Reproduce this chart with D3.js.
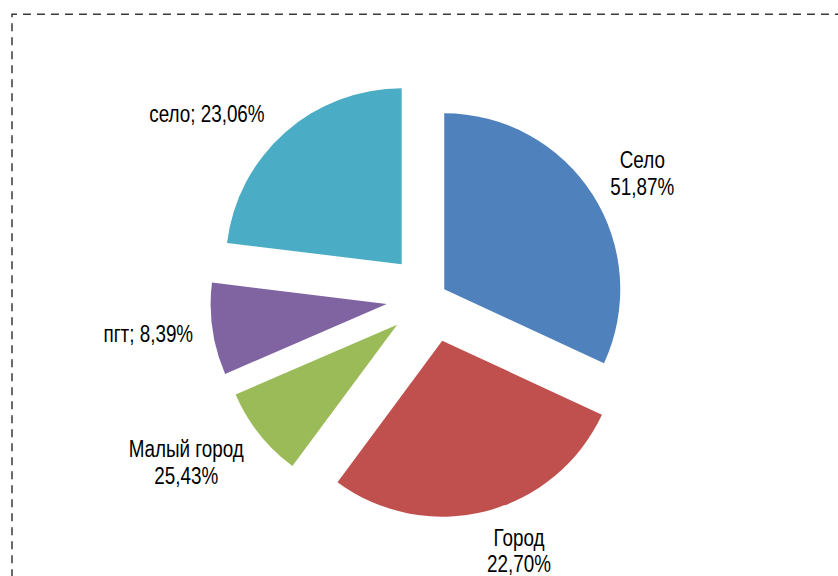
<!DOCTYPE html>
<html>
<head>
  <meta charset="utf-8">
  <title>Exploded pie with D3.js</title>
  <script src="https://d3js.org/d3.v7.min.js"></script>
  <style>
    body { margin: 0; background: #fff; }
  </style>
</head>
<body>

<div id="pie-chart"></div>

<script>
// Chart data
const categories = ["Село", "Город", "Малый город", "пгт", "село"];
const values = [31.9, 28.24, 8.36, 8.44, 23.06];
const labelPercents = ["51,87%", "22,70%", "25,43%", "8,39%", "23,06%"];
const labelSeparators = ["\n", "\n", "\n", "; ", "; "];

// Layout / style
const colors = ["#4F81BD", "#C0504D", "#9BBB59", "#8064A2", "#4BACC6"];
const explode = [15.5, 44.5, 43.5, 45, 44.5];   // how far each slice is pulled out
const labelGap = [23, 21, 29, 20, 32];          // gap between slice rim and label box
const labelNudge = [1.5, -4.4, 1.6, 0, -4.8];   // small angular shifts, degrees

const width = 838;
const height = 576;
const cx = 431.2;
const cy = 297.6;
const radius = 176;
const fontSize = 23;
const lineHeight = 27;

// Arial Narrow look: use Liberation Sans Narrow if it exists, else squeeze Liberation Sans
function hasFont(name) {
  const ctx = document.createElement("canvas").getContext("2d");
  const sample = "Малый город 51,87%";
  ctx.font = "40px monospace";
  const a = ctx.measureText(sample).width;
  ctx.font = `40px "${name}", monospace`;
  return ctx.measureText(sample).width !== a;
}
const narrow = hasFont("Liberation Sans Narrow");
const fontFamily = narrow ? '"Liberation Sans Narrow", "Arial Narrow", sans-serif'
                          : '"Liberation Sans", Arial, sans-serif';
const squeeze = narrow ? 1 : 0.82;

const svg = d3.select("#pie-chart")
  .append("svg")
  .attr("width", width)
  .attr("height", height);

// dashed frame (runs off the right and bottom edges)
svg.append("path")
  .attr("d", `M12,${height + 10} L12,14.25 L${width + 10},14.25`)
  .attr("fill", "none")
  .attr("stroke", "#3a3a3a")
  .attr("stroke-width", 1.5)
  .attr("stroke-dasharray", "8,6")
  .attr("stroke-dashoffset", 5.3);

const pie = d3.pie()
  .sort(null)
  .value(d => d);

const arc = d3.arc()
  .innerRadius(0)
  .outerRadius(radius);

const arcs = pie(values);
const dir = a => [Math.sin(a), -Math.cos(a)];

const g = svg.append("g")
  .attr("transform", `translate(${cx},${cy})`);

g.selectAll("path.slice")
  .data(arcs)
  .enter()
  .append("path")
  .attr("class", "slice")
  .attr("transform", (d, i) => {
    const [dx, dy] = dir((d.startAngle + d.endAngle) / 2);
    return `translate(${dx * explode[i]},${dy * explode[i]})`;
  })
  .attr("d", arc)
  .attr("fill", (d, i) => colors[i]);

// Labels
arcs.forEach((d, i) => {
  const lines = labelSeparators[i] === "\n"
    ? [categories[i], labelPercents[i]]
    : [categories[i] + labelSeparators[i] + labelPercents[i]];

  const lg = g.append("g");
  const text = lg.append("text")
    .attr("text-anchor", "middle")
    .attr("font-family", fontFamily)
    .attr("font-size", fontSize)
    .attr("fill", "#000")
    .attr("transform", `scale(${squeeze},1)`);

  lines.forEach((line, k) => {
    text.append("tspan")
      .attr("x", 0)
      .attr("y", (k - (lines.length - 1) / 2) * lineHeight)
      .attr("dy", "0.35em")
      .text(line);
  });

  let w = 0;
  text.selectAll("tspan").each(function () {
    w = Math.max(w, this.getComputedTextLength());
  });
  const hw = w * squeeze / 2;
  const hh = lines.length * 13;

  const a = (d.startAngle + d.endAngle) / 2 + labelNudge[i] * Math.PI / 180;
  const [ux, uy] = dir(a);
  const r = explode[i] + radius + labelGap[i];
  const x = ux * r + ux * hw;
  const y = uy * r + uy * hh;
  lg.attr("transform", `translate(${x},${y})`);
});
</script>

</body>
</html>
